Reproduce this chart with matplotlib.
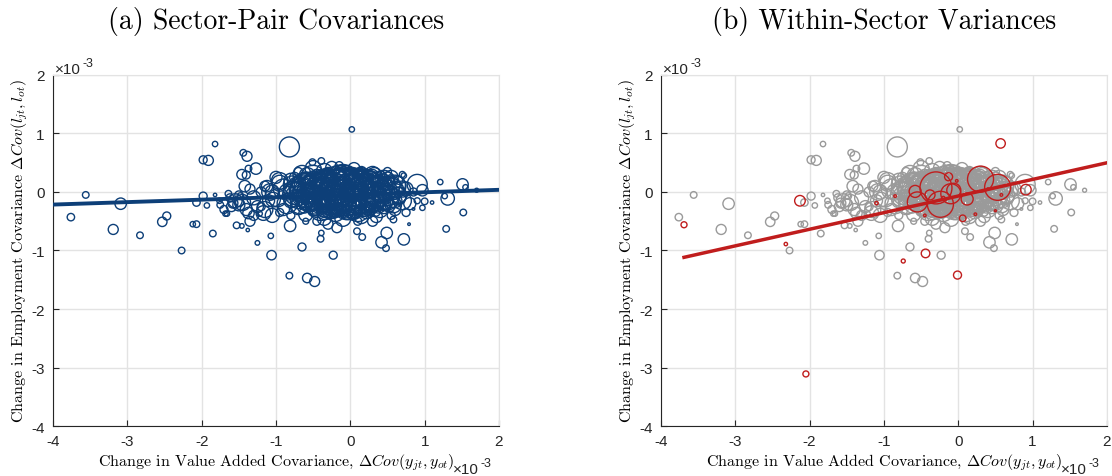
import numpy as np
import matplotlib
matplotlib.use("Agg")
import matplotlib.pyplot as plt

plt.rcParams['mathtext.fontset'] = 'cm'

# --- data (in units of 1e-3) ---
# sector-pair covariances: x, y, bubble radius (px)
pair_x = [0.02, -1.82, -0.82, -1.44, -1.39, -1.98, -1.91, -0.39, -0.51, -1.27,
          -1.37, -1.46, -1.40, 0.72, 0.90, 1.21, 1.51, 0.97, 1.70, 1.55,
          1.31, 1.27, 1.00, 0.97, 1.10, 1.52, 1.29, 0.85, 0.79, 0.72,
          0.49, 0.42, 0.48, 0.16, 0.09, 0.58, -0.23, -0.65, -1.06, -0.82,
          -0.58, -0.48, -1.07, -1.25, -0.81, -0.40, -0.39, -0.18, -2.27, -1.85,
          -2.07, -2.12, -2.83, -2.53, -2.47, -3.19, -3.09, -3.56, -3.76, -1.98,
          -2.07, -1.93, -1.82, -1.75, -1.76, -1.68, -1.66, -1.64, -1.53, -1.46,
          -1.38, -1.35, -1.37, -1.17, -1.22, -1.58, -1.49, -1.48, -1.42, -1.12,
          -0.95, -1.08, -1.04,
          -0.05, 0.15, -0.25, -0.45, 0.35, -0.60, 0.00, -0.30, 0.20, -0.15,
          0.50, -0.75, -0.90, 0.60, -0.50, 0.10, -0.40, 0.45, -0.85, 0.70,
          -0.95, -0.98, -0.80, -0.70, -0.65, -0.55, -0.50, -0.35, -0.20, -0.10,
          0.05, 0.25, 0.30, 0.40, 0.55, 0.65, 0.75, 0.80, -0.35, -0.10,
          0.15, -0.60, 0.05, -0.25, 0.35, -0.40, 0.25, -0.15, 0.10, -0.05,
          -0.70, 0.45, -0.30, 0.60, -0.90, -1.05, -1.10, -1.00,
          -0.95, -0.80, -0.70, -0.45, -0.30, -0.15, 0.10, 0.30, 0.50, 0.65,
          0.75, 0.85, 0.90, -0.60, -1.20, -1.15, -0.35, 0.00, 0.20, -0.20,
          0.40, -0.55, -0.05, 0.30, -0.45, 0.15, -0.25, 0.55, -0.75, 0.70,
          -1.55, -1.50, -1.45, -1.60, -1.40, -1.30, -1.25, -1.20, -1.35, -1.15,
          -1.05, -1.30, -1.50, -1.62, -1.70,
          -0.62, -0.52, -0.42, -0.33, -0.22, -0.12, -0.02, 0.08, 0.18, 0.28,
          0.38, 0.48, -0.48, -0.38, -0.28, -0.18, -0.08, 0.02, 0.12, 0.22,
          0.32, -0.58, -0.68, -0.78, 0.58, 0.62, -0.20, -0.10, 0.05, -0.35,
          0.25, 0.40, -0.55, -0.15, 0.10, -0.45, -0.25, 0.00, 0.30, -0.65,
          -0.10, 0.05, -0.30, 0.20, -0.45, -0.20, 0.00, -0.35, 0.30, -0.55,
          0.10, -0.15, 0.40, -0.65, -0.25, 0.15, -0.05, 0.25, -0.45, 0.55,
          -0.40, -0.30, -0.20, -0.10, 0.00, 0.10, 0.20, -0.50, -0.60, -0.15,
          0.05, 0.25, -0.35, -0.05, 0.15, -0.30, -0.45, 0.35, 0.45, -0.70,
          -0.70, 0.50, 0.65, 0.70, -0.85, -0.80, -0.60, 0.55, -0.25, 0.05]
pair_y = [1.07, 0.82, 0.77, 0.67, 0.61, 0.55, 0.54, 0.53, 0.51, 0.40,
          0.40, 0.30, 0.29, 0.28, 0.13, 0.17, 0.13, 0.03, 0.03, 0.08,
          -0.11, -0.07, -0.16, -0.27, -0.18, -0.35, -0.63, -0.29, -0.55, -0.81,
          -0.70, -0.86, -0.96, -0.77, -0.67, -0.47, -1.08, -0.94, -1.08, -1.43,
          -1.47, -1.53, -0.75, -0.87, -0.58, -0.80, -0.70, -0.61, -1.00, -0.71,
          -0.55, -0.55, -0.74, -0.51, -0.41, -0.64, -0.20, -0.05, -0.43, -0.07,
          -0.18, -0.23, -0.05, -0.22, -0.15, -0.37, -0.37, -0.03, -0.57, -0.58,
          -0.65, -0.50, -0.36, -0.36, -0.37, -0.19, -0.18, -0.07, 0.10, 0.10,
          0.19, 0.00, -0.13,
          0.02, -0.05, 0.05, -0.05, 0.00, 0.10, -0.20, -0.20, 0.15, 0.20,
          -0.10, -0.05, 0.05, 0.10, 0.25, -0.30, -0.30, 0.20, -0.20, -0.15,
          0.15, -0.10, 0.20, -0.25, 0.30, -0.20, 0.40, 0.35, -0.35, 0.30,
          0.25, -0.25, 0.30, -0.30, 0.25, -0.05, 0.05, -0.20, -0.45, -0.45,
          -0.42, -0.38, 0.40, 0.42, -0.42, 0.15, 0.05, -0.10, 0.10, -0.35,
          0.05, -0.20, 0.25, -0.30, -0.30, 0.00, -0.15, 0.25,
          -0.35, -0.40, 0.35, -0.50, -0.55, 0.45, -0.50, -0.50, 0.35, 0.20,
          -0.35, 0.00, -0.15, -0.50, -0.25, 0.10, 0.00, 0.15, -0.15, -0.05,
          0.10, 0.05, -0.15, -0.10, 0.30, 0.35, -0.30, -0.40, 0.25, 0.30,
          -0.15, -0.22, -0.18, -0.25, -0.30, -0.10, -0.25, 0.00, 0.05, -0.30,
          -0.40, -0.40, -0.05, -0.10, -0.30,
          -0.12, 0.15, 0.05, -0.12, 0.12, -0.22, 0.10, -0.08, 0.05, -0.18,
          0.12, 0.00, -0.25, 0.22, -0.05, 0.28, -0.02, -0.28, 0.22, -0.32,
          0.28, 0.28, -0.22, 0.12, -0.22, 0.12, -0.25, 0.12, 0.02, 0.10,
          0.20, -0.05, -0.05, 0.05, -0.15, 0.12, -0.15, 0.20, 0.08, 0.00,
          0.05, -0.05, 0.00, 0.00, 0.05, -0.15, 0.15, 0.15, -0.10, -0.10,
          0.10, 0.10, 0.05, 0.05, -0.25, -0.20, -0.25, 0.15, -0.20, 0.05,
          -0.10, 0.08, 0.00, -0.10, 0.00, -0.02, 0.08, 0.00, -0.20, -0.30,
          -0.35, -0.28, -0.35, 0.32, 0.30, 0.30, 0.22, 0.22, -0.25, 0.15,
          -0.10, 0.15, -0.10, 0.05, 0.00, -0.15, 0.20, -0.15, 0.20, 0.22]
pair_r = [2.7, 2.7, 10, 3.3, 5, 4, 5, 3.3, 3.3, 5.7,
          3.3, 5, 4, 2.7, 10, 2.7, 5.7, 5.7, 2, 2.7,
          6.7, 2.7, 3.3, 2.7, 1.7, 3.3, 3.3, 1.3, 1.3, 5.7,
          5.7, 5.7, 3.3, 3.3, 3.3, 3.3, 4, 4, 4.7, 3.3,
          4.7, 5, 2.7, 2.3, 5.7, 3.3, 2.7, 5, 3.3, 3.3,
          3.3, 2.7, 3.3, 4.7, 4, 5, 5.7, 3.3, 3.7, 4,
          3.7, 2.7, 1.7, 3.3, 2.7, 2.7, 2.7, 3.3, 3.3, 2.3,
          1.7, 5, 5.7, 7.3, 2.7, 5, 4, 3.3, 5.7, 5.7,
          8.3, 8.3, 7.3,
          20, 18, 17, 15, 15, 14, 16, 14, 14, 15,
          12, 12, 10, 11, 12, 12, 11, 10, 10, 9,
          8, 9, 7, 8, 9, 8, 8, 8, 9, 10,
          9, 9, 8, 8, 7, 8, 7, 6, 7, 8,
          7, 7, 6, 6, 6, 9, 9, 9, 8, 7,
          8, 7, 7, 6, 6, 7, 6, 6,
          4, 4, 4, 4, 5, 4, 4, 5, 4, 4,
          4, 4, 3, 3, 4, 5, 5, 5, 5, 6,
          6, 6, 6, 6, 5, 5, 5, 4, 5, 3,
          7, 6, 8, 5, 6, 7, 6, 5, 5, 8,
          7, 5, 4, 4, 4,
          9, 10, 11, 10, 12, 11, 13, 12, 11, 10,
          10, 9, 9, 9, 13, 9, 14, 10, 11, 8,
          8, 8, 9, 9, 8, 9, 8, 8, 9, 8,
          7, 7, 7, 7, 7, 6, 6, 6, 6, 6,
          22, 20, 18, 18, 16, 16, 16, 14, 14, 13,
          15, 17, 13, 12, 12, 13, 13, 12, 12, 11,
          8, 7, 8, 7, 8, 7, 7, 7, 7, 7,
          7, 7, 7, 8, 7, 7, 7, 7, 7, 7,
          8, 7, 7, 8, 8, 7, 7, 7, 6, 6]

# dense centre of the sector-pair cloud
core_x = [-0.45, -0.30, -0.15, 0.00, 0.15, 0.30,
          -0.60, -0.50, -0.35, -0.20, -0.05, 0.10, 0.25, 0.40, 0.50,
          -0.72, -0.62, -0.48, -0.32, -0.18, -0.02, 0.12, 0.28, 0.42, 0.55,
          -0.78, -0.66, -0.52, -0.38, -0.22, -0.08, 0.06, 0.20, 0.34, 0.48, 0.60,
          -0.75, -0.62, -0.48, -0.34, -0.20, -0.05, 0.10, 0.24, 0.38, 0.52, 0.65,
          -0.70, -0.56, -0.42, -0.28, -0.12, 0.02, 0.16, 0.30, 0.45, 0.60,
          -0.62, -0.48, -0.34, -0.20, -0.05, 0.10, 0.24, 0.38, 0.52,
          -0.50, -0.36, -0.22, -0.08, 0.06, 0.20, 0.34]
core_y = [0.30, 0.30, 0.30, 0.30, 0.30, 0.30,
          0.22, 0.22, 0.22, 0.22, 0.22, 0.22, 0.22, 0.22, 0.22,
          0.12, 0.12, 0.12, 0.12, 0.12, 0.12, 0.12, 0.12, 0.12, 0.12,
          0.03, 0.03, 0.03, 0.03, 0.03, 0.03, 0.03, 0.03, 0.03, 0.03, 0.03,
          -0.06, -0.06, -0.06, -0.06, -0.06, -0.06, -0.06, -0.06, -0.06, -0.06, -0.06,
          -0.15, -0.15, -0.15, -0.15, -0.15, -0.15, -0.15, -0.15, -0.15, -0.15,
          -0.24, -0.24, -0.24, -0.24, -0.24, -0.24, -0.24, -0.24, -0.24,
          -0.33, -0.33, -0.33, -0.33, -0.33, -0.33, -0.33]
core_r = [5, 6, 6, 6, 5, 5,
          7, 8, 9, 10, 10, 10, 9, 8, 7,
          8, 10, 12, 14, 15, 16, 15, 13, 11, 9,
          9, 12, 14, 17, 20, 22, 20, 17, 14, 11, 9,
          9, 12, 14, 17, 19, 20, 18, 15, 12, 10, 8,
          8, 10, 12, 14, 15, 14, 13, 11, 9, 7,
          7, 8, 9, 10, 10, 9, 8, 7, 6,
          5, 6, 6, 6, 6, 5, 5]

# within-sector variances
own_x = [-3.69, -2.13, -2.32, -2.05, -1.10, -0.85, -0.74, -0.44, -0.01, 0.57,
         0.91, 0.06, 0.23, 0.50, 0.58, -0.30, -0.24, -0.55, -0.58, -0.10,
         -0.06, 0.30, 0.53, 0.12, -0.13, -0.02, -0.38, -0.20, 0.40, -0.45]
own_y = [-0.56, -0.15, -0.89, -3.11, -0.19, -0.07, -1.18, -1.05, -1.42, 0.83,
         0.04, -0.45, -0.38, -0.32, -0.05, 0.07, -0.21, -0.17, 0.01, -0.03,
         0.03, 0.22, 0.08, -0.12, 0.26, 0.19, -0.05, -0.10, 0.05, -0.40]
own_r = [3, 5.3, 1.7, 3, 1.7, 1.3, 2, 4.3, 4, 4.7,
         5.3, 3.3, 1.3, 1, 1.3, 16, 13, 10, 6, 10,
         7, 13, 13, 6, 4, 1.3, 5, 1.5, 1.2, 1.3]

# fitted lines: intercept, slope
fit_pair = (-0.047, 0.042)
fit_own = (-0.069, 0.284)

titles = ['(a) Sector-Pair Covariances', '(b) Within-Sector Variances']
xlab = r'Change in Value Added Covariance, $\Delta Cov(y_{jt},y_{ot})$'
ylab = r'Change in Employment Covariance $\Delta Cov(l_{jt},l_{ot})$'

blue = '#0d3f78'
gray = '#9a9a9a'
red = '#c01d1d'
dark = '#262626'
dpi = 100


def to_s(r):
    return (2 * np.array(r) * 72 / dpi) ** 2


all_x = pair_x + core_x
all_y = pair_y + core_y
all_r = pair_r + core_r

fig = plt.figure(figsize=(11.12, 4.77), dpi=dpi)
ax1 = fig.add_axes([0.0477, 0.1048, 0.401, 0.7359])
ax2 = fig.add_axes([0.5944, 0.1048, 0.401, 0.7359])

ax1.scatter(all_x, all_y, s=to_s(all_r), facecolors='none', edgecolors=blue, linewidths=1.0, zorder=3)
xs = np.array([-4, 2])
ax1.plot(xs, fit_pair[0] + fit_pair[1] * xs, color=blue, lw=2.8, zorder=4)

ax2.scatter(all_x, all_y, s=to_s(all_r), facecolors='none', edgecolors=gray, linewidths=1.0, zorder=3)
ax2.scatter(own_x, own_y, s=to_s(own_r), facecolors='none', edgecolors=red, linewidths=1.0, zorder=4)
xs2 = np.array([min(own_x), 2])
ax2.plot(xs2, fit_own[0] + fit_own[1] * xs2, color=red, lw=2.5, zorder=5)

for ax, title in zip([ax1, ax2], titles):
    ax.set_xlim(-4, 2)
    ax.set_ylim(-4, 2)
    ax.set_xticks(range(-4, 3))
    ax.set_yticks(range(-4, 3))
    ax.set_xticklabels([str(v) for v in range(-4, 3)], family='Liberation Sans', fontsize=11, color=dark)
    ax.set_yticklabels([str(v) for v in range(-4, 3)], family='Liberation Sans', fontsize=11, color=dark)
    ax.grid(True, color='#e3e3e3', lw=1.0, zorder=0)
    ax.set_axisbelow(True)
    for side in ['top', 'right']:
        ax.spines[side].set_color('#e3e3e3')
    for side in ['left', 'bottom']:
        ax.spines[side].set_color(dark)
        ax.spines[side].set_linewidth(0.8)
    ax.tick_params(direction='in', length=4, width=0.8, color=dark, top=False, right=False, pad=6)
    ax.set_xlabel(xlab, family='cmr10', fontsize=11.5, labelpad=2)
    ax.set_ylabel(ylab, family='cmr10', fontsize=11.5, labelpad=1)
    bb = ax.get_position()
    fig.text((bb.x0 + bb.x1) / 2, 0.955, title, family='cmr10', fontsize=20, ha='center', va='center')
    # exponent labels
    ax.text(0.004, 1.017, u'\u00d710', transform=ax.transAxes, family='Liberation Sans', fontsize=11, ha='left', va='center', color=dark)
    ax.text(0.066, 1.033, '-3', transform=ax.transAxes, family='Liberation Sans', fontsize=9, ha='left', va='center', color=dark)
    ax.text(0.897, -0.122, u'\u00d710', transform=ax.transAxes, family='Liberation Sans', fontsize=11, ha='left', va='center', color=dark)
    ax.text(0.958, -0.104, '-3', transform=ax.transAxes, family='Liberation Sans', fontsize=9, ha='left', va='center', color=dark)

fig.savefig('out.png', dpi=dpi)
